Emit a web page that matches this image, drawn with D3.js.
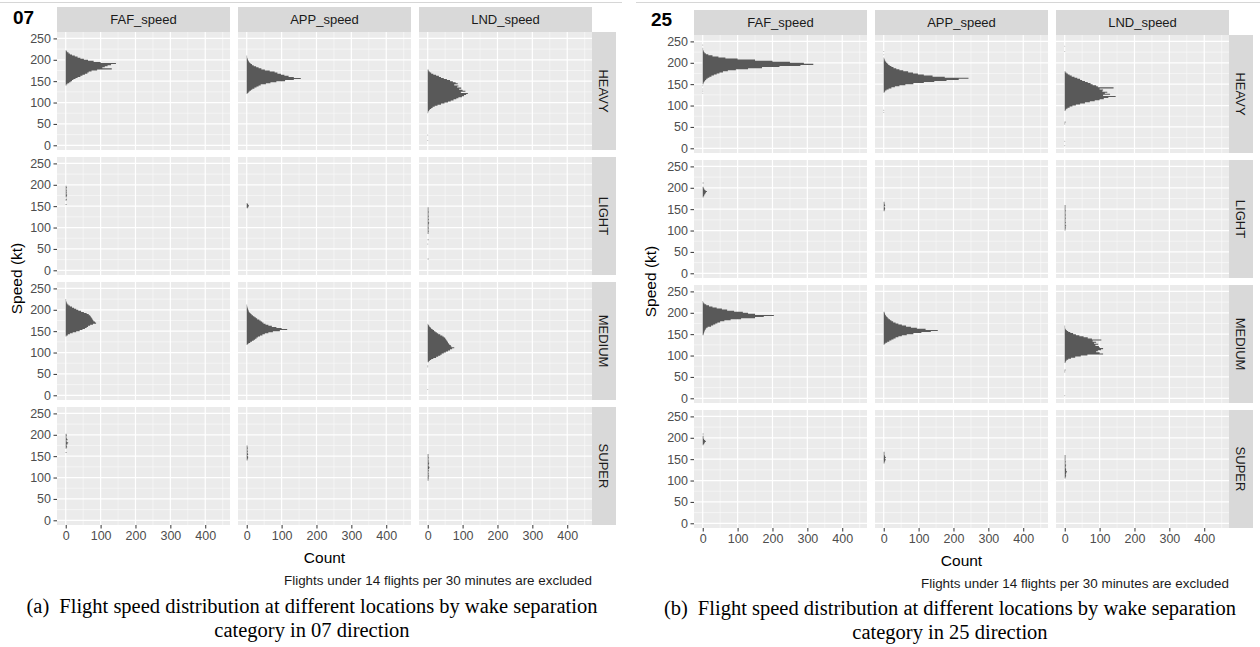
<!DOCTYPE html>
<html>
<head>
<meta charset="utf-8">
<script src="https://cdn.jsdelivr.net/npm/d3@7"></script>
<style>
  body { margin: 0; background: #ffffff; }
  svg { display: block; }
</style>
</head>
<body>
<svg id="chart" width="1260" height="647"></svg>
<script>
// ---- facets and axes ----
const locations = ["FAF_speed", "APP_speed", "LND_speed"];
const wakeCategories = ["HEAVY", "LIGHT", "MEDIUM", "SUPER"];
const directions = ["07", "25"];
const speedTicks = [0, 50, 100, 150, 200, 250];
const countTicks = [0, 100, 200, 300, 400];
const binWidth = 2.5; // kt

// ---- histogram counts ----
// each entry: [start of first bin (kt), [counts of consecutive bins]]
// runway 07
const r07_HEAVY_FAF = [[140, [2,5,10,14,18,22,28,34,42,48,55,62,66,74,90,132,105,112,120,130,144,100,80,64,52,42,34,26,18,12,8,4,2]]];
const r07_HEAVY_APP = [[120, [2,5,8,12,16,22,28,34,40,55,68,85,110,135,155,135,120,108,98,88,80,66,52,42,34,27,20,15,11,8,6,4,3,2,1,1]]];
const r07_HEAVY_LND = [[10, [1]], [22.5, [1]], [75, [1,2,4,6,10,14,20,28,38,48,58,66,74,82,88,98,104,110,115,95,108,100,90,96,84,88,76,86,80,72,64,55,46,38,32,24,16,10,6,3,2]]];
const r07_LIGHT_FAF = [[152.5, [2]], [162.5, [2,3,0,2,3,4,2,3,2,3,2,2,3,2]]];
const r07_LIGHT_APP = [[145, [3,5,6,4,2]]];
const r07_LIGHT_LND = [[25, [2]], [60, [1]], [70, [2]], [85, [2,2,3,2,2,3,2,2,2,3,4,2,2,3,2,2,3,2,2,2,3,2,2,2,2]]];
const r07_MEDIUM_FAF = [[137.5, [2,6,12,20,30,40,48,55,60,64,70,78,87,84,80,78,76,74,72,70,66,60,52,44,36,30,24,18,12,8,5,3,2,1,1]]];
const r07_MEDIUM_APP = [[117.5, [2,5,10,15,20,24,28,32,38,45,52,62,75,95,116,100,85,72,62,54,48,44,40,36,30,26,22,18,14,11,8,6,5,4,3,2,1,1]]];
const r07_MEDIUM_LND = [[12.5, [1]], [65, [1,1]], [77.5, [3,6,10,16,24,30,36,40,46,52,58,64,70,76,68,66,62,60,58,56,54,52,50,46,42,36,30,26,22,18,14,10,8,5,3,1]]];
const r07_SUPER_FAF = [[157.5, [2]], [167.5, [2,4,3,2,5,7,3,2,5,3,2,2,3,2]]];
const r07_SUPER_APP = [[140, [2,3,4,4,2,4,3,2,3,2,2,3,2,2]]];
const r07_SUPER_LND = [[92.5, [2,2,3,2,4,2,3,2,2,3,2,4,5,3,2,3,4,2,3,2,2,3,2,2,2]]];
// runway 25
const r25_HEAVY_FAF = [[127.5, [1]], [132.5, [1]], [137.5, [1]], [145, [1,0,2]], [152.5, [3,5,7,10,14,19,25,32,40,48,58,72,95,130,170,220,280,317,290,250,200,150,100,65,45,28,16,9,5,3,2,1]], [232.5, [1]], [240, [1]]];
const r25_HEAVY_APP = [[82.5, [1]], [87.5, [1]], [130, [2,4,8,14,22,32,45,62,85,115,145,180,215,243,175,140,115,98,84,70,56,45,36,28,22,17,13,10,7,5,3,2,1]], [217.5, [1]], [225, [1]]];
const r25_HEAVY_LND = [[5, [1]], [15, [1]], [55, [1,1,2]], [87.5, [2,4,8,14,22,32,44,58,72,86,100,112,125,146,110,130,115,122,108,110,100,140,95,90,80,74,66,58,50,44,36,28,20,14,9,5,2]], [225, [1]], [237.5, [1]]];
const r25_LIGHT_FAF = [[177.5, [2,4,5,7,9,12,8,5,3,2]], [210, [2]]];
const r25_LIGHT_APP = [[145, [2,3,4,3,2,4,3,2,2]]];
const r25_LIGHT_LND = [[100, [2,2,3,2,4,2,2,3,2,2,2,3,2,2,3,2,2,2,3,2,2,2,2,2]]];
const r25_MEDIUM_FAF = [[147.5, [2,3,4,5,6,8,10,14,24,30,36,42,50,62,80,110,150,175,204,150,130,115,90,70,55,40,28,18,10,5,2,1]]];
const r25_MEDIUM_APP = [[125, [2,5,10,16,22,28,34,42,52,66,85,108,135,155,120,95,78,64,52,42,34,27,22,18,14,11,8,6,4,3,2]]];
const r25_MEDIUM_LND = [[5, [1]], [60, [1,1,2]], [82.5, [2,3,5,10,18,30,46,65,110,100,90,95,104,110,100,98,88,96,84,90,80,105,78,66,54,42,32,24,16,10,6,3,1,1,1]]];
const r25_SUPER_FAF = [[182.5, [2,4,6,9,7,4,2,2,2]], [207.5, [2]]];
const r25_SUPER_APP = [[140, [2,3,4,6,4,6,4,3,2,2,2]]];
const r25_SUPER_LND = [[105, [2,3,4,3,4,5,6,4,4,3,2,3,4,2,2,3,2,2,2,2,2,2]]];

const histograms = {
  "07": {
    HEAVY:  { FAF_speed: r07_HEAVY_FAF,  APP_speed: r07_HEAVY_APP,  LND_speed: r07_HEAVY_LND },
    LIGHT:  { FAF_speed: r07_LIGHT_FAF,  APP_speed: r07_LIGHT_APP,  LND_speed: r07_LIGHT_LND },
    MEDIUM: { FAF_speed: r07_MEDIUM_FAF, APP_speed: r07_MEDIUM_APP, LND_speed: r07_MEDIUM_LND },
    SUPER:  { FAF_speed: r07_SUPER_FAF,  APP_speed: r07_SUPER_APP,  LND_speed: r07_SUPER_LND }
  },
  "25": {
    HEAVY:  { FAF_speed: r25_HEAVY_FAF,  APP_speed: r25_HEAVY_APP,  LND_speed: r25_HEAVY_LND },
    LIGHT:  { FAF_speed: r25_LIGHT_FAF,  APP_speed: r25_LIGHT_APP,  LND_speed: r25_LIGHT_LND },
    MEDIUM: { FAF_speed: r25_MEDIUM_FAF, APP_speed: r25_MEDIUM_APP, LND_speed: r25_MEDIUM_LND },
    SUPER:  { FAF_speed: r25_SUPER_FAF,  APP_speed: r25_SUPER_APP,  LND_speed: r25_SUPER_LND }
  }
};

const noteText = "Flights under 14 flights per 30 minutes are excluded";
const captions = {
  "07": ["(a)", "Flight speed distribution at different locations by wake separation", "category in 07 direction"],
  "25": ["(b)", "Flight speed distribution at different locations by wake separation", "category in 25 direction"]
};

// ---- layout ----
const panelW = 173, panelH = 118, colStep = 181, rowStep = 125, stripW = 24;
const speedDomain = [-11, 265];
const countDomain = [-25, 471];
const sans = "'Liberation Sans', Arial, Helvetica, sans-serif";
const serif = "'Liberation Serif', 'Times New Roman', Times, serif";

const figures = [
  { dir: "07", x0: 57, y0: 32, stripTop: 7, titleX: 13, titleY: 24, yLabelX: 17,
    countY: 563, noteY: 585, capX: 312, capY: [613, 637], rule: [0, 622] },
  { dir: "25", x0: 694, y0: 35, stripTop: 10, titleX: 651, titleY: 26, yLabelX: 651,
    countY: 566, noteY: 588, capX: 950, capY: [615, 639], rule: [636, 1260] }
];

function minorBreaks(major, domain) {
  const step = major[1] - major[0];
  const vals = d3.pairs(major).map(([a, b]) => (a + b) / 2);
  const below = major[0] - step / 2, above = major[major.length - 1] + step / 2;
  if (below > domain[0]) vals.unshift(below);
  if (above < domain[1]) vals.push(above);
  return vals;
}

const svg = d3.select("#chart");
const x = d3.scaleLinear().domain(countDomain).range([0, panelW]);
const y = d3.scaleLinear().domain(speedDomain).range([panelH, 0]);
const xMinor = minorBreaks(countTicks, countDomain);
const yMinor = minorBreaks(speedTicks, speedDomain);

// One outline per run of consecutive bins, so neighbouring bars form a solid shape
function histogramPath(runs) {
  const p = d3.path();
  runs.forEach(([start, counts]) => {
    const end = start + counts.length * binWidth;
    p.moveTo(x(0), y(start));
    counts.forEach((c, i) => {
      const s = start + i * binWidth;
      p.lineTo(x(c), y(s));
      p.lineTo(x(c), y(s + binWidth));
    });
    p.lineTo(x(0), y(end));
    p.closePath();
  });
  return p.toString();
}

figures.forEach(fig => {
  const g = svg.append("g");

  // thin rule across the top
  g.append("line")
    .attr("x1", fig.rule[0]).attr("x2", fig.rule[1])
    .attr("y1", 2.5).attr("y2", 2.5)
    .attr("stroke", "#d6d6d6").attr("stroke-width", 1.2);

  // direction title
  g.append("text")
    .attr("x", fig.titleX).attr("y", fig.titleY)
    .attr("font-family", sans).attr("font-weight", "bold").attr("font-size", 19)
    .attr("fill", "#000").text(fig.dir);

  locations.forEach((loc, ci) => {
    const px = fig.x0 + ci * colStep;

    // column strip
    g.append("rect")
      .attr("x", px).attr("y", fig.stripTop)
      .attr("width", panelW).attr("height", fig.y0 - fig.stripTop)
      .attr("fill", "#d9d9d9");
    g.append("text")
      .attr("x", px + panelW / 2).attr("y", (fig.stripTop + fig.y0) / 2)
      .attr("dy", "0.35em").attr("text-anchor", "middle")
      .attr("font-family", sans).attr("font-size", 13).attr("fill", "#1a1a1a")
      .text(loc);

    wakeCategories.forEach((cat, ri) => {
      const py = fig.y0 + ri * rowStep;
      const p = g.append("g").attr("transform", `translate(${px},${py})`);

      p.append("rect").attr("width", panelW).attr("height", panelH).attr("fill", "#ebebeb");

      // minor grid
      p.selectAll("line.vminor").data(xMinor).join("line")
        .attr("x1", d => x(d)).attr("x2", d => x(d)).attr("y1", 0).attr("y2", panelH)
        .attr("stroke", "#fafafa").attr("stroke-width", 0.6);
      p.selectAll("line.hminor").data(yMinor).join("line")
        .attr("y1", d => y(d)).attr("y2", d => y(d)).attr("x1", 0).attr("x2", panelW)
        .attr("stroke", "#fafafa").attr("stroke-width", 0.6);
      // major grid
      p.selectAll("line.vmajor").data(countTicks).join("line")
        .attr("x1", d => x(d)).attr("x2", d => x(d)).attr("y1", 0).attr("y2", panelH)
        .attr("stroke", "#ffffff").attr("stroke-width", 1.2);
      p.selectAll("line.hmajor").data(speedTicks).join("line")
        .attr("y1", d => y(d)).attr("y2", d => y(d)).attr("x1", 0).attr("x2", panelW)
        .attr("stroke", "#ffffff").attr("stroke-width", 1.2);

      // histogram (horizontal bars: speed on y, count on x)
      p.append("path")
        .attr("d", histogramPath(histograms[fig.dir][cat][loc]))
        .attr("fill", "#595959");

      if (ci === 0) {
        const ax = p.append("g").call(
          d3.axisLeft(y).tickValues(speedTicks).tickSize(3.5).tickPadding(2.5));
        ax.select(".domain").remove();
        ax.selectAll(".tick line").attr("stroke", "#333333");
        ax.selectAll(".tick text").attr("font-family", sans).attr("font-size", 12.5).attr("fill", "#4d4d4d");
      }
      if (ri === wakeCategories.length - 1) {
        const ax = p.append("g").attr("transform", `translate(0,${panelH})`).call(
          d3.axisBottom(x).tickValues(countTicks).tickSize(3.5).tickPadding(2.5));
        ax.select(".domain").remove();
        ax.selectAll(".tick line").attr("stroke", "#333333");
        ax.selectAll(".tick text").attr("font-family", sans).attr("font-size", 12.5).attr("fill", "#4d4d4d");
      }

      // row strip
      if (ci === locations.length - 1) {
        const sx = px + panelW;
        g.append("rect")
          .attr("x", sx).attr("y", py).attr("width", stripW).attr("height", panelH)
          .attr("fill", "#d9d9d9");
        g.append("text")
          .attr("transform", `translate(${sx + stripW / 2},${py + panelH / 2}) rotate(90)`)
          .attr("dy", "0.35em").attr("text-anchor", "middle")
          .attr("font-family", sans).attr("font-size", 13).attr("fill", "#1a1a1a")
          .text(cat);
      }
    });
  });

  const left = fig.x0, right = fig.x0 + 2 * colStep + panelW;
  const top = fig.y0, bottom = fig.y0 + 3 * rowStep + panelH;

  // axis titles
  g.append("text")
    .attr("transform", `translate(${fig.yLabelX},${(top + bottom) / 2}) rotate(-90)`)
    .attr("dy", "0.35em").attr("text-anchor", "middle")
    .attr("font-family", sans).attr("font-size", 15.5).attr("fill", "#000")
    .text("Speed (kt)");
  g.append("text")
    .attr("x", (left + right) / 2).attr("y", fig.countY)
    .attr("text-anchor", "middle")
    .attr("font-family", sans).attr("font-size", 15.5).attr("fill", "#000")
    .text("Count");

  // note
  g.append("text")
    .attr("x", right).attr("y", fig.noteY)
    .attr("text-anchor", "end")
    .attr("font-family", sans).attr("font-size", 12).attr("fill", "#1a1a1a")
    .attr("textLength", 308).attr("lengthAdjust", "spacingAndGlyphs")
    .text(noteText);

  // figure caption
  const cap = captions[fig.dir];
  const t1 = g.append("text")
    .attr("x", fig.capX).attr("y", fig.capY[0])
    .attr("text-anchor", "middle")
    .attr("font-family", serif).attr("font-size", 20.5).attr("fill", "#000");
  t1.append("tspan").text(cap[0]);
  t1.append("tspan").attr("dx", 10).text(cap[1]);
  g.append("text")
    .attr("x", fig.capX).attr("y", fig.capY[1])
    .attr("text-anchor", "middle")
    .attr("font-family", serif).attr("font-size", 20.5).attr("fill", "#000")
    .text(cap[2]);
});
</script>
</body>
</html>
